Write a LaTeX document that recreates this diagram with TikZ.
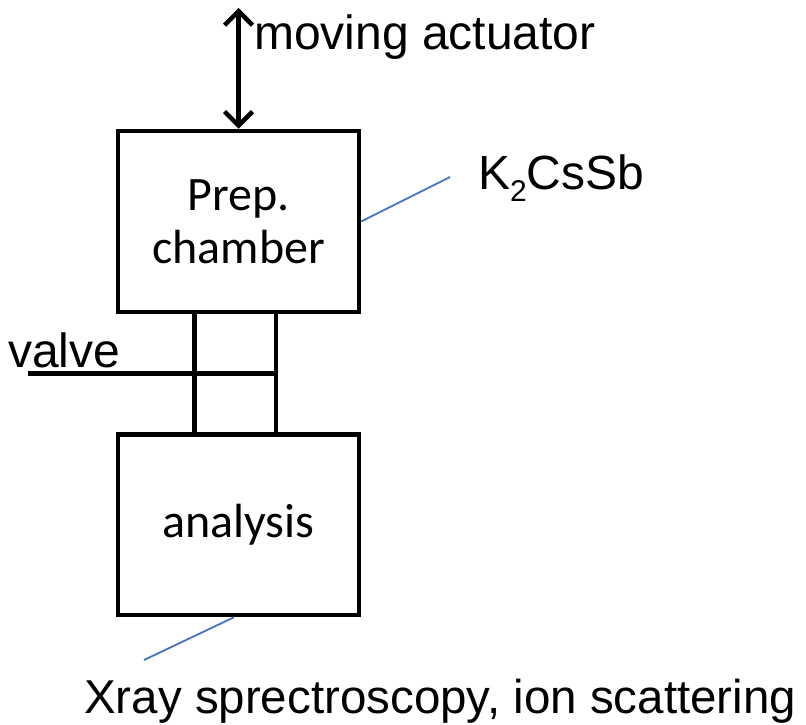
\documentclass[tikz,border=0pt]{standalone}
\usepackage{fontspec}
\setmainfont{Liberation Sans}
\newfontfamily\calib{Carlito}
\usetikzlibrary{arrows.meta}
\definecolor{leader}{RGB}{68,114,196}
\tikzset{
  chamber/.style={draw, line width=4.5pt, rectangle, inner sep=0pt, align=center,
    font=\calib\fontsize{48}{53}\selectfont},
  label/.style={inner sep=0pt, anchor=base west, font=\fontsize{48}{53}\selectfont},
  wall/.style={line width=4.5pt},
  leaderline/.style={draw=leader, line width=1.8pt},
  motion/.style={line width=4.5pt, {Straight Barb[length=14pt,width=28pt]}-{Straight Barb[length=14pt,width=28pt]}}
}
\begin{document}
\begin{tikzpicture}[x=1pt,y=-1pt]
  \useasboundingbox (0,0) rectangle (806,725);

  % valve tube between the two chambers
  \node[chamber, minimum width=81.5pt, minimum height=122.5pt] (tube) at (235.25,373.25) {};

  % chambers
  \node[chamber, minimum width=241pt, minimum height=181pt] (prep) at (238.5,221.5) {Prep.\\chamber};
  \node[chamber, minimum width=241pt, minimum height=180.5pt] (ana) at (238.5,524.75) {analysis};

  % valve blade
  \coordinate (valveend) at (28,373.25);
  \draw[wall] (valveend) -- (tube.east);
  \node[label] (valvelbl) at (8,367) {valve};

  % actuator
  \coordinate (acttop) at (238.5,8);
  \draw[motion] (acttop) -- (prep.north);
  \node[label] (actlbl) at (254,50) {moving actuator};

  % photocathode material
  \coordinate (kend) at (450,177);
  \draw[leaderline] (prep.east) -- (kend);
  \node[label] (klbl) at (478,189) {K\raisebox{-12pt}{\fontsize{30}{30}\selectfont 2}CsSb};

  % analysis methods
  \coordinate (xend) at (144,660);
  \draw[leaderline] ([xshift=-4.5pt]ana.south) -- (xend);
  \node[label, font=\fontsize{47.5}{53}\selectfont] (xlbl) at (84,713) {Xray sprectroscopy, ion scattering};
\end{tikzpicture}
\end{document}
